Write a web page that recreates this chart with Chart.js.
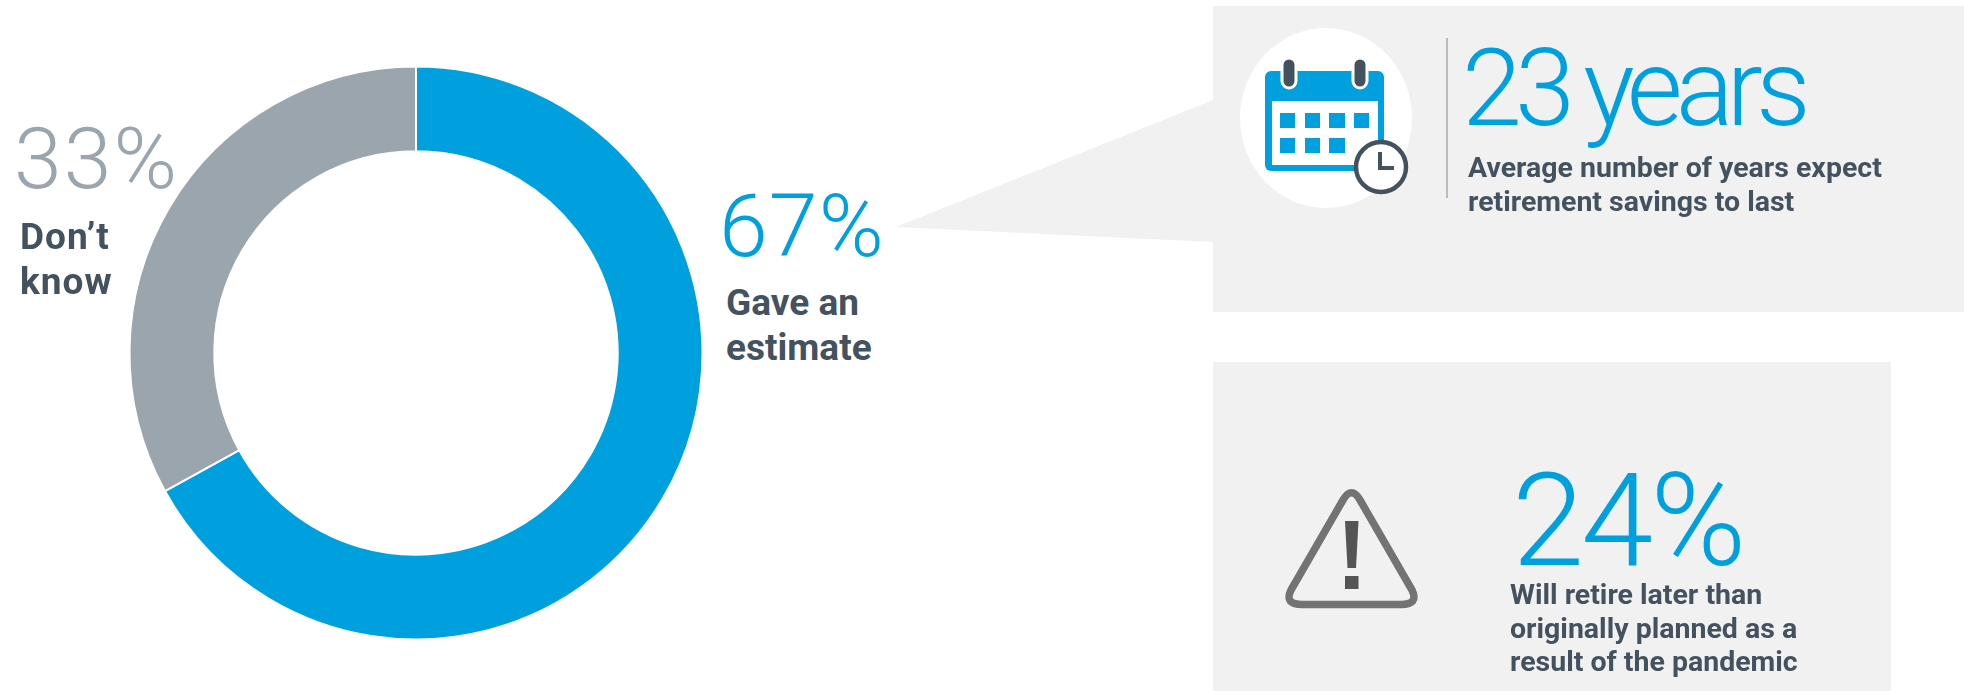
<!DOCTYPE html>
<html>
<head>
<meta charset="utf-8">
<script src="https://cdn.jsdelivr.net/npm/chart.js@4"></script>
<style>
  html, body { margin: 0; padding: 0; background: #fff; }
  body { width: 1964px; height: 691px; position: relative; overflow: hidden; font-family: Roboto, sans-serif; }
  #wrap { position: absolute; left: 120px; top: 57px; width: 592px; height: 592px; }
  .box { position: absolute; background: #f1f1f1; }
  .big { position: absolute; color: #00a0df; font-weight: 300; line-height: 1; white-space: nowrap; }
  .lbl { position: absolute; color: #44525f; font-weight: 700; white-space: nowrap; }
  svg { position: absolute; left: 0; top: 0; }
</style>
</head>
<body>
<div class="box" style="left:1213px;top:6px;width:751px;height:306px"></div>
<div class="box" style="left:1213px;top:362px;width:678px;height:329px"></div>
<svg width="1964" height="691"><polygon points="896,227 1213,100 1213,242" fill="#f1f1f1"/></svg>
<div id="wrap"><canvas id="donut" width="592" height="592"></canvas></div>

<div class="big" style="left:14px;top:116px;font-size:86px;letter-spacing:2px;color:#9aa5ae">33%</div>
<div class="lbl" style="left:20px;top:214px;font-size:37px;line-height:45px;letter-spacing:1px">Don’t<br>know</div>
<div class="big" style="left:719px;top:182px;font-size:88px;letter-spacing:1px">67%</div>
<div class="lbl" style="left:726px;top:280px;font-size:37px;line-height:45px">Gave an<br>estimate</div>

<svg width="1964" height="691">
  <!-- calendar icon -->
  <ellipse cx="1326" cy="118" rx="86" ry="90" fill="#fff"/>
  <rect x="1265" y="71" width="119" height="100" rx="6" fill="#00a0df"/>
  <rect x="1272" y="101" width="106" height="64" fill="#fff"/>
  <rect x="1282" y="58" width="14" height="30" rx="7" fill="#44525f" stroke="#fff" stroke-width="3"/>
  <rect x="1353" y="58" width="14" height="30" rx="7" fill="#44525f" stroke="#fff" stroke-width="3"/>
  <g fill="#00a0df">
    <rect x="1280" y="113" width="15" height="15"/><rect x="1305" y="113" width="15" height="15"/><rect x="1329" y="113" width="16" height="15"/><rect x="1354" y="113" width="15" height="15"/>
    <rect x="1280" y="138" width="15" height="15"/><rect x="1305" y="138" width="15" height="15"/><rect x="1329" y="138" width="16" height="15"/>
  </g>
  <circle cx="1381" cy="167" r="25" fill="#fff" stroke="#44525f" stroke-width="4.5"/>
  <path d="M1380 152 V168 H1394" fill="none" stroke="#44525f" stroke-width="4"/>
  <line x1="1447" y1="38" x2="1447" y2="198" stroke="#a8a8a8" stroke-width="1.5"/>
  <!-- warning icon -->
  <path d="M1343 500 Q1351.5 485.5 1360 500 L1412 590 Q1419 604.5 1401 604.5 H1302 Q1284 604.5 1291 590 Z" fill="none" stroke="#737373" stroke-width="7.5" stroke-linejoin="round"/>
  <polygon points="1345,521 1358.5,521 1356,568 1347.5,568" fill="#555"/>
  <rect x="1345" y="576" width="13.5" height="13" fill="#555"/>
</svg>

<div class="big" style="left:1462px;top:34px;font-size:108px;letter-spacing:-7px;word-spacing:-4px">23 years</div>
<div class="lbl" style="left:1468px;top:151px;font-size:28.5px;line-height:33.5px">Average number of years expect<br>retirement savings to last</div>
<div class="big" style="left:1512px;top:456px;font-size:130px;letter-spacing:-3px">24%</div>
<div class="lbl" style="left:1510px;top:578px;font-size:28.5px;line-height:33.5px">Will retire later than<br>originally planned as a<br>result of the pandemic</div>

<script>
// share of respondents, clockwise from twelve o'clock
const categories = ["Gave an estimate", "Don't know"];
const shares = [67, 33];
const colors = ["#00a0df", "#9aa5ae"];

new Chart(document.getElementById("donut"), {
  type: "doughnut",
  data: {
    labels: categories,
    datasets: [{
      data: shares,
      backgroundColor: colors,
      borderColor: "#fff",
      borderWidth: 2
    }]
  },
  options: {
    responsive: false,
    animation: false,
    cutout: "70.4%",
    layout: { padding: 8.5 },
    plugins: { legend: { display: false }, tooltip: { enabled: false } }
  }
});
</script>
</body>
</html>
